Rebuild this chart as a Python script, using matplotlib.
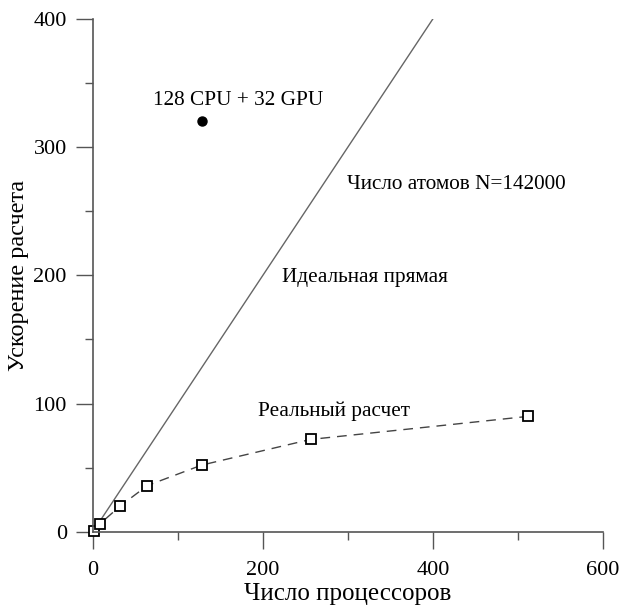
import numpy as np
import matplotlib.pyplot as plt
from matplotlib.ticker import MultipleLocator

plt.rcParams['font.family'] = ['Liberation Serif', 'DejaVu Serif']

# speedup data
procs = [1, 8, 32, 64, 128, 256, 512]
speedup = [1, 6, 20, 36, 52, 72, 90]
ideal_x = [0, 400]
ideal_y = [0, 400]
gpu_x = [128]
gpu_y = [320]

fig = plt.figure(figsize=(6.23, 6.05), dpi=100)
ax = fig.add_axes([0.149, 0.121, 0.819, 0.848])

grey = '#555555'
ax.plot(ideal_x, ideal_y, '-', color='#666666', lw=1.0)
ax.plot(procs, speedup, '--', color='#444444', lw=1.0, dashes=(7, 5))
ax.plot(procs, speedup, 's', mfc='white', mec='black', mew=1.3, ms=6.5, clip_on=False)
ax.plot(gpu_x, gpu_y, 'o', color='black', ms=6.5)

fs = 15.3
ax.text(71, 333, '128 CPU + 32 GPU', fontsize=fs, va='baseline')
ax.text(299, 267, 'Число атомов N=142000', fontsize=fs, va='baseline')
ax.text(222, 195, 'Идеальная прямая', fontsize=fs, va='baseline')
ax.text(194, 90, 'Реальный расчет', fontsize=fs, va='baseline')

ax.set_xlim(0, 600)
ax.set_ylim(0, 400)
ax.xaxis.set_major_locator(MultipleLocator(200))
ax.xaxis.set_minor_locator(MultipleLocator(100))
ax.yaxis.set_major_locator(MultipleLocator(100))
ax.yaxis.set_minor_locator(MultipleLocator(50))
ax.tick_params(which='major', direction='out', length=12.2, width=1, color=grey,
               labelsize=16)
ax.tick_params(which='minor', direction='out', length=5.8, width=1, color=grey)
ax.tick_params(axis='x', which='major', pad=9)
ax.tick_params(axis='y', which='major', pad=6.5)

for s in ['top', 'right']:
    ax.spines[s].set_visible(False)
for s in ['left', 'bottom']:
    ax.spines[s].set_color(grey)
    ax.spines[s].set_linewidth(1.2)

ax.set_xlabel('Число процессоров', fontsize=18)
ax.xaxis.set_label_coords(0.5, -0.1)
ax.set_ylabel('Ускорение расчета', fontsize=17.5)
ax.yaxis.set_label_coords(-0.125, 0.5)

plt.savefig('out.png', dpi=100)
